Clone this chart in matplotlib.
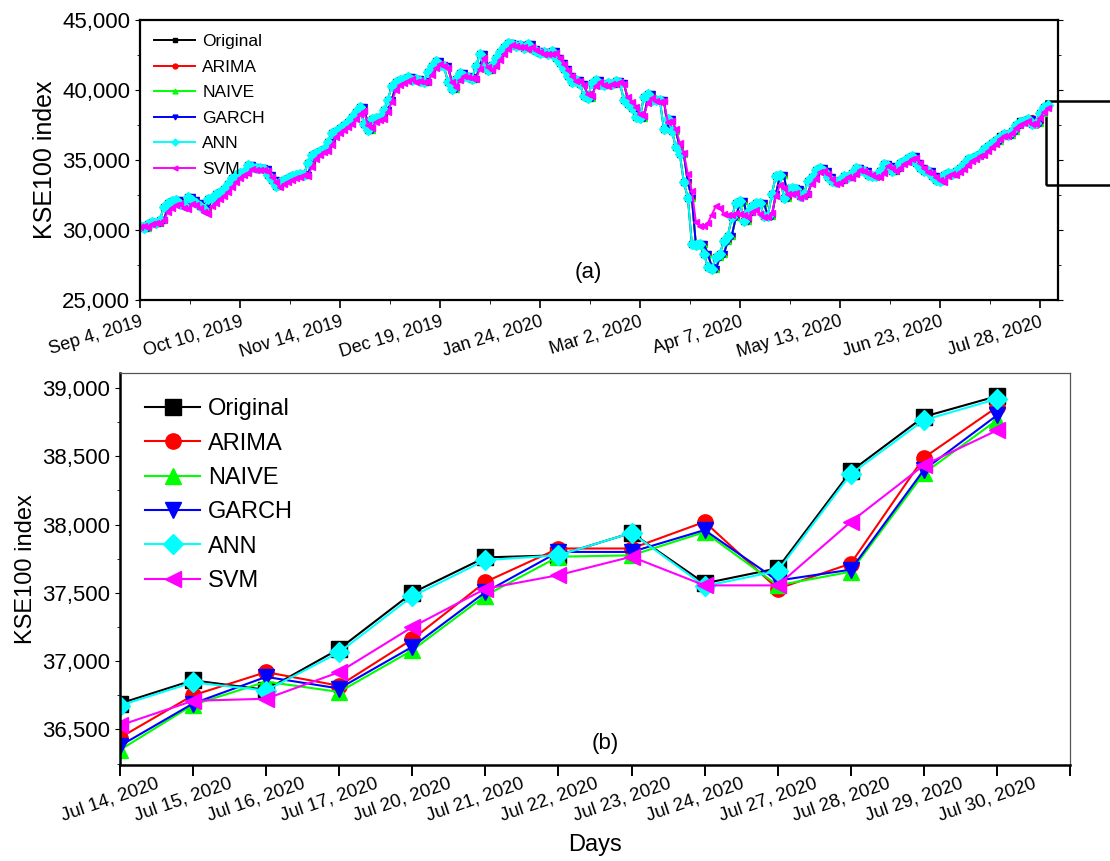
import matplotlib
matplotlib.use("Agg")
import matplotlib.pyplot as plt
import matplotlib.patches as patches
from matplotlib.ticker import MultipleLocator, FuncFormatter

plt.rcParams['font.family'] = ['Liberation Sans', 'DejaVu Sans']

# KSE100 closing index, Sep 4, 2019 .. Jul 13, 2020 (one value per trading day)
original_early = [
    30280, 30150, 30420, 30560, 30480, 30700, 31650, 31900, 32050, 32150,
    31850, 31750, 32350, 32150, 31950, 31700, 31500, 32200, 32300, 32550,
    32700, 32900, 33300, 33700, 33950, 34050, 34150, 34650, 34500, 34400,
    34450, 34350, 33900, 33600, 33150, 33450, 33600, 33700, 33850, 33900,
    34000, 33950, 34800, 35350, 35500, 35650, 35800, 36300, 36900, 37100,
    37300, 37500, 37700, 38100, 38400, 38750, 37600, 37150, 37900, 38000,
    38050, 38600, 39300, 40300, 40550, 40700, 40800, 40900, 40700, 40750,
    40650, 40600, 41300, 41700, 42050, 41800, 41700, 40600, 40050, 40800,
    41200, 41000, 40900, 40800, 41700, 42550, 41700, 41400, 41800, 42300,
    42700, 43100, 43350, 43250, 43150, 43200, 43000, 43250, 42900, 42750,
    42650, 42700, 42600, 42750, 42300, 41900, 41500, 41000, 40600, 40700,
    40400, 39600, 39450, 40500, 40700, 40400, 40350, 40500, 40450, 40650,
    40500, 39300, 39000, 38700, 38100, 38000, 39500, 39700, 39300, 39250,
    39300, 37200, 37900, 37100, 35900, 35400, 33400, 32300, 29000, 28900,
    29000, 28300, 27350, 27200, 28050, 28300, 29200, 29600, 30900, 31950,
    32050, 30650, 31250, 31700, 31950, 31950, 31000, 31000, 32550, 33850,
    33950, 32300, 32900, 33000, 32900, 32450, 32550, 33500, 33750, 34300,
    34400, 34200, 33750, 33500, 33400, 33600, 33850, 33750, 34100, 34450,
    34300, 34200, 33950, 33850, 33850, 34200, 34700, 34550, 34200, 34450,
    34800, 34900, 35150, 35250, 34800, 34450, 34200, 34200, 33850, 33600,
    33500, 33950, 34100, 34000, 34200, 34400, 34700, 35050, 35150, 35300,
    35400, 35750, 36000, 36200, 36450,
]

# SVM forecasts over the same period
svm_early = [
    30200, 30250, 30200, 30400, 30500, 30500, 30700, 31300, 31600, 31750,
    31850, 31600, 31500, 31850, 31800, 31550, 31250, 31150, 31700, 31950,
    32200, 32450, 32700, 33050, 33400, 33700, 33900, 34050, 34350, 34300,
    34250, 34250, 34200, 33800, 33450, 33050, 33250, 33450, 33600, 33700,
    33800, 33900, 33850, 34500, 35100, 35350, 35550, 35650, 36100, 36650,
    36950, 37150, 37350, 37550, 37900, 38250, 38500, 37500, 37250, 37700,
    37850, 37950, 38450, 39150, 40000, 40350, 40500, 40650, 40750, 40600,
    40650, 40550, 40550, 41100, 41550, 41850, 41700, 41550, 40600, 40200,
    40700, 41000, 40900, 40850, 40750, 41500, 42250, 41650, 41400, 41700,
    42150, 42550, 42950, 43200, 43150, 43050, 43100, 42950, 43100, 42850,
    42700, 42600, 42600, 42550, 42650, 42250, 41850, 41450, 41000, 40650,
    40650, 40350, 39700, 39550, 40300, 40550, 40350, 40300, 40400, 40400,
    40550, 40400, 39500, 39150, 38800, 38300, 38150, 39100, 39400, 39200,
    39150, 39200, 37700, 37800, 37200, 36200, 35500, 34000, 32800, 30600,
    30300, 30300, 30500, 31100, 31700, 31600, 31150, 31100, 31100, 31200,
    31150, 31100, 30900, 31250, 31400, 31150, 30950, 30900, 31200, 32400,
    33200, 33000, 32600, 32550, 32650, 32300, 32400, 32600, 33300, 33650,
    34150, 34200, 34000, 33650, 33300, 33350, 33550, 33750, 33700, 34000,
    34300, 34200, 34100, 33900, 33800, 33800, 34100, 34550, 34450, 34200,
    34400, 34700, 34850, 35050, 35150, 34750, 34400, 34150, 34100, 33800,
    33550, 33450, 33850, 34000, 33950, 34150, 34350, 34650, 34950, 35100,
    35250, 35350, 35650, 35900, 36150,
]

# Last 13 trading days, Jul 14 .. Jul 30, 2020
days = ['Jul 14, 2020', 'Jul 15, 2020', 'Jul 16, 2020', 'Jul 17, 2020',
        'Jul 20, 2020', 'Jul 21, 2020', 'Jul 22, 2020', 'Jul 23, 2020',
        'Jul 24, 2020', 'Jul 27, 2020', 'Jul 28, 2020', 'Jul 29, 2020',
        'Jul 30, 2020']
original = [36690, 36860, 36790, 37090, 37500, 37760, 37775, 37940, 37570, 37680, 38390, 38790, 38940]
arima = [36440, 36750, 36920, 36820, 37160, 37580, 37825, 37825, 38020, 37530, 37715, 38490, 38860]
naive = [36350, 36680, 36850, 36775, 37080, 37480, 37765, 37775, 37945, 37555, 37655, 38375, 38765]
garch = [36380, 36690, 36885, 36800, 37105, 37505, 37800, 37800, 37960, 37590, 37670, 38400, 38800]
ann = [36675, 36845, 36785, 37065, 37475, 37740, 37775, 37940, 37550, 37660, 38370, 38765, 38920]
svm = [36530, 36710, 36725, 36920, 37250, 37530, 37630, 37765, 37555, 37555, 38020, 38435, 38690]

full_ticks = ['Sep 4, 2019', 'Oct 10, 2019', 'Nov 14, 2019', 'Dec 19, 2019',
              'Jan 24, 2020', 'Mar 2, 2020', 'Apr 7, 2020', 'May 13, 2020',
              'Jun 23, 2020', 'Jul 28, 2020']

names = ['Original', 'ARIMA', 'NAIVE', 'GARCH', 'ANN', 'SVM']
colors = ['#000000', '#FF0000', '#00FF00', '#0000FF', '#00FFFF', '#FF00FF']
markers = ['s', 'o', '^', 'v', 'D', '<']

n_early = len(original_early)
x_early = list(range(n_early))
x_tail = list(range(n_early, n_early + len(days)))

# the naive-type forecasts (ARIMA, NAIVE, GARCH) follow the previous day's close
lagged = original_early[:-1]
x_lagged = x_early[1:]

full_series = [
    (x_early + x_tail, original_early + original),
    (x_lagged + x_tail, lagged + arima),
    (x_lagged + x_tail, lagged + naive),
    (x_lagged + x_tail, lagged + garch),
    (x_early + x_tail, original_early + ann),
    (x_early + x_tail, svm_early + svm),
]
tail_series = [original, arima, naive, garch, ann, svm]

comma = FuncFormatter(lambda v, p: f'{v:,.0f}')

fig = plt.figure(figsize=(11.1, 8.61), dpi=100)

# (a) whole period
ax1 = fig.add_axes([0.126, 0.6516, 0.827, 0.3252])
for (xs, ys), name, c, m in zip(full_series, names, colors, markers):
    ax1.plot(xs, ys, color=c, marker=m, markersize=4.2 if m != 'D' else 5,
             linewidth=1.4, label=name)
ax1.set_xlim(0, 229.5)
ax1.set_ylim(25000, 45000)
ax1.set_xticks(range(0, 226, 25))
ax1.set_xticklabels(full_ticks, rotation=17, ha='right', rotation_mode='anchor', fontsize=13)
ax1.xaxis.set_minor_locator(MultipleLocator(12.5))
ax1.yaxis.set_major_locator(MultipleLocator(5000))
ax1.yaxis.set_minor_locator(MultipleLocator(2500))
ax1.yaxis.set_major_formatter(comma)
ax1.tick_params(axis='y', labelsize=16, which='both', right=True, direction='out')
ax1.tick_params(axis='x', which='major', length=6, width=1.2)
ax1.tick_params(axis='x', which='minor', length=3)
ax1.set_ylabel('KSE100 index', fontsize=18)
for s in ax1.spines.values():
    s.set_linewidth(1.6)
ax1.text(112, 26950, '(a)', ha='center', va='center', fontsize=16)
leg1 = ax1.legend(loc='upper left', frameon=False, fontsize=12.5, handlelength=2.4,
                  labelspacing=0.6, handletextpad=0.4, borderaxespad=0.2, borderpad=0.6)
for h in leg1.legend_handles:
    h.set_markersize(3.5)
ax1.add_patch(patches.Rectangle((226.5, 33200), 40, 6000, fill=False,
                                edgecolor='black', linewidth=1.8, clip_on=False))

# (b) last two weeks
ax2 = fig.add_axes([0.108, 0.1115, 0.856, 0.4553])
xs = list(range(len(days)))
for ys, name, c, m in zip(tail_series, names, colors, markers):
    ax2.plot(xs, ys, color=c, marker=m, markersize=11 if m != 'D' else 10,
             linewidth=1.5, label=name)
ax2.set_xlim(0, 13)
ax2.set_ylim(36240, 39110)
ax2.set_xticks(range(14))
ax2.set_xticklabels([])
# slanted day labels, centred a little left of and below each tick
for i, d in enumerate(days):
    ax2.annotate(d, xy=(i, 0), xycoords=ax2.get_xaxis_transform(),
                 xytext=(-7, -25), textcoords='offset points',
                 rotation=19, rotation_mode='anchor', ha='center', va='center',
                 fontsize=13.5, annotation_clip=False)
ax2.yaxis.set_major_locator(MultipleLocator(500))
ax2.yaxis.set_minor_locator(MultipleLocator(250))
ax2.yaxis.set_major_formatter(comma)
ax2.tick_params(axis='y', labelsize=16)
ax2.tick_params(axis='x', which='major', length=8, width=1.4)
ax2.set_ylabel('KSE100 index', fontsize=17)
ax2.set_xlabel('Days', fontsize=17)
ax2.xaxis.set_label_coords(0.5, -0.175)
for side in ['left', 'bottom']:
    ax2.spines[side].set_linewidth(1.8)
for side in ['top', 'right']:
    ax2.spines[side].set_linewidth(0.9)
    ax2.spines[side].set_color('#555555')
ax2.text(6.64, 36400, '(b)', ha='center', va='center', fontsize=16)
ax2.legend(loc='upper left', frameon=False, fontsize=17, handlelength=2.3,
           labelspacing=0.52, handletextpad=0.35, borderaxespad=0.45, borderpad=0.63)

fig.savefig('out.png', dpi=100)
